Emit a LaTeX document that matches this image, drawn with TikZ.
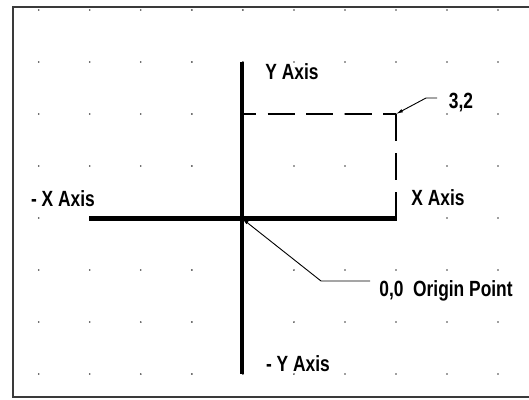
\documentclass[tikz,border=0pt]{standalone}
\usepackage{fontspec}
\setmainfont{Liberation Sans}
\usetikzlibrary{arrows.meta}
\definecolor{framegray}{HTML}{3A3A3A}
\tikzset{
  lbl/.style={anchor=base, inner sep=0pt, fill=white, font=\fontsize{22}{26}\selectfont\bfseries},
  axisline/.style={line width=5pt, line cap=butt},
  dashline/.style={line width=1.3pt},
  leader/.style={line width=0.9pt},
  tipend/.style={-{Latex[length=7pt,width=3.5pt]}},
  griddot/.style={fill=black!75, draw=none}
}
\newcommand{\cnd}[1]{\scalebox{0.79}[1]{#1}}
\begin{document}
\begin{tikzpicture}[x=1pt,y=-1pt]
\useasboundingbox (0,0) rectangle (529,399);
\fill[white] (0,0) rectangle (529,399);
% grid dots
\foreach \i in {0,...,9}{
  \foreach \j in {0,...,7}{
    \fill[griddot] ({38.8+51.02*\i},{10+52*\j}) circle (0.9);
  }
}
% frame
\draw[framegray, line width=2pt] (529,7) -- (13,7) -- (13,397) -- (529,397);
% coordinates
\coordinate (ytop) at (242,62);
\coordinate (ybot) at (242,374);
\coordinate (xleft) at (89,218.5);
\coordinate (xright) at (397,218.5);
\coordinate (origin) at (242,218.5);
\coordinate (pt) at (396,114);
\coordinate (ydash) at (242,114);
\coordinate (xdash) at (396,218.5);
\coordinate (k1) at (426,98);
\coordinate (k1e) at (437,98);
\coordinate (k2) at (321,281);
\coordinate (k2e) at (370,281);
% axes
\draw[axisline, line width=4.5pt] (ytop) -- (ybot);
\draw[axisline, line width=5.5pt] (xleft) -- (xright);
% dashed projection
\draw[dashline, dash pattern=on 27pt off 11.5pt, dash phase=13pt] (ydash) -- (pt);
\draw[dashline, dash pattern=on 26.5pt off 12.5pt] (pt) -- (xdash);
% leaders
\draw[leader, tipend] (k1e) -- (k1) -- (pt);
\draw[leader, tipend] (k2e) -- (k2) -- (origin);
% labels
\node[lbl] (ly) at (292,79.5) {\cnd{Y Axis}};
\node[lbl] (l32) at (461,108.5) {\cnd{3,2}};
\node[lbl] (lmx) at (63,206) {\cnd{- X Axis}};
\node[lbl] (lx) at (438,205.5) {\cnd{X Axis}};
\node[lbl] (lo) at (446,296) {\cnd{0,0\ \ Origin Point}};
\node[lbl] (lmy) at (298,371) {\cnd{- Y Axis}};
\end{tikzpicture}
\end{document}
